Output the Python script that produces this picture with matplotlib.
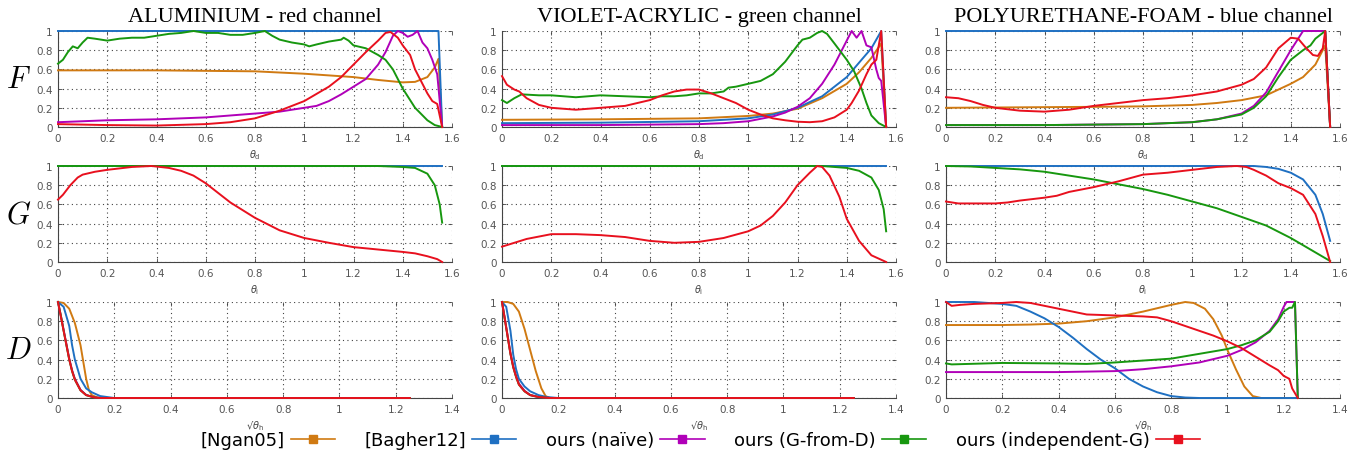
import matplotlib
matplotlib.use("Agg")
import matplotlib.pyplot as plt
from matplotlib.lines import Line2D
from matplotlib.ticker import FuncFormatter, MultipleLocator

# series colours / names
names = ['[Ngan05]', '[Bagher12]', 'ours (naïve)', 'ours (G-from-D)', 'ours (independent-G)']
keys = ['ngan', 'bagher', 'naive', 'gfromd', 'indep']
colors = ['#d07a12', '#1f70c2', '#b000b8', '#17970f', '#e8101e']

titles = ['ALUMINIUM - red channel', 'VIOLET-ACRYLIC - green channel', 'POLYURETHANE-FOAM - blue channel']
row_labels = ['F', 'G', 'D']
xlabels = [r'$\theta_\mathrm{d}$', r'$\theta_\mathrm{i}$', r'√$\theta_\mathrm{h}$']

# ---- F row ----
al_F = {
    'ngan': ([0, 0.4, 0.8, 1.0, 1.2, 1.3, 1.4, 1.45, 1.5, 1.53, 1.545, 1.56],
             [0.59, 0.59, 0.58, 0.555, 0.52, 0.49, 0.465, 0.47, 0.52, 0.62, 0.71, 0]),
    'bagher': ([0, 0.5, 1.0, 1.545, 1.56], [1, 1, 1, 1, 0]),
    'naive': ([0, 0.2, 0.4, 0.6, 0.8, 0.9, 1.0, 1.05, 1.1, 1.15, 1.2, 1.25, 1.3, 1.33, 1.36, 1.38,
               1.4, 1.42, 1.44, 1.46, 1.48, 1.5, 1.52, 1.54, 1.56],
              [0.05, 0.07, 0.08, 0.1, 0.14, 0.16, 0.2, 0.22, 0.27, 0.34, 0.42, 0.5, 0.65, 0.78, 0.95, 1.0,
               0.98, 0.94, 0.96, 1.0, 0.88, 0.82, 0.7, 0.55, 0]),
    'gfromd': ([0, 0.02, 0.04, 0.06, 0.08, 0.1, 0.12, 0.15, 0.2, 0.25, 0.3, 0.35, 0.4, 0.45, 0.5, 0.55,
                0.6, 0.65, 0.7, 0.75, 0.8, 0.84, 0.87, 0.9, 0.95, 1.0, 1.02, 1.05, 1.1, 1.15, 1.16, 1.18,
                1.2, 1.25, 1.3, 1.33, 1.36, 1.4, 1.45, 1.5, 1.53, 1.56],
               [0.66, 0.7, 0.78, 0.84, 0.82, 0.88, 0.93, 0.92, 0.9, 0.92, 0.93, 0.93, 0.95, 0.97, 0.98, 1.0,
                0.98, 0.98, 0.96, 0.96, 0.98, 1.0, 0.95, 0.91, 0.88, 0.86, 0.84, 0.86, 0.89, 0.91, 0.93, 0.9,
                0.85, 0.82, 0.75, 0.7, 0.6, 0.4, 0.2, 0.07, 0.02, 0]),
    'indep': ([0, 0.2, 0.4, 0.6, 0.7, 0.8, 0.9, 1.0, 1.1, 1.15, 1.2, 1.25, 1.3, 1.33, 1.35, 1.38, 1.4,
               1.43, 1.45, 1.48, 1.5, 1.52, 1.54, 1.56],
              [0.03, 0.02, 0.015, 0.03, 0.05, 0.09, 0.17, 0.27, 0.42, 0.52, 0.65, 0.78, 0.9, 0.98, 0.99,
               0.93, 0.85, 0.75, 0.6, 0.45, 0.35, 0.27, 0.24, 0]),
}
va_F = {
    'ngan': ([0, 0.4, 0.8, 1.0, 1.1, 1.2, 1.3, 1.4, 1.45, 1.5, 1.54, 1.56],
             [0.075, 0.08, 0.09, 0.115, 0.14, 0.19, 0.3, 0.45, 0.57, 0.72, 0.87, 0]),
    'bagher': ([0, 0.4, 0.8, 1.0, 1.1, 1.2, 1.3, 1.4, 1.45, 1.5, 1.54, 1.56],
               [0.04, 0.045, 0.06, 0.09, 0.13, 0.2, 0.32, 0.52, 0.67, 0.82, 1.0, 0]),
    'naive': ([0, 0.4, 0.8, 0.9, 1.0, 1.1, 1.15, 1.2, 1.25, 1.3, 1.35, 1.38, 1.42, 1.44, 1.46, 1.48,
               1.5, 1.52, 1.53, 1.54, 1.56],
              [0.02, 0.02, 0.03, 0.04, 0.06, 0.11, 0.15, 0.21, 0.3, 0.45, 0.65, 0.8, 1.0, 0.93, 1.0, 0.85,
               0.83, 0.6, 0.51, 0.48, 0]),
    'gfromd': ([0, 0.02, 0.05, 0.08, 0.15, 0.2, 0.3, 0.4, 0.5, 0.6, 0.65, 0.7, 0.75, 0.8, 0.85, 0.9,
                0.92, 0.95, 1.0, 1.05, 1.1, 1.15, 1.2, 1.22, 1.25, 1.28, 1.3, 1.32, 1.35, 1.4, 1.43, 1.46,
                1.48, 1.5, 1.53, 1.56],
               [0.28, 0.25, 0.3, 0.34, 0.33, 0.33, 0.31, 0.33, 0.32, 0.31, 0.32, 0.32, 0.33, 0.35, 0.35,
                0.37, 0.41, 0.42, 0.45, 0.48, 0.55, 0.68, 0.85, 0.91, 0.93, 0.98, 1.0, 0.97, 0.87, 0.7,
                0.58, 0.4, 0.25, 0.12, 0.04, 0]),
    'indep': ([0, 0.02, 0.05, 0.07, 0.1, 0.15, 0.2, 0.3, 0.4, 0.5, 0.6, 0.65, 0.7, 0.75, 0.8, 0.85, 0.9,
               0.95, 1.0, 1.05, 1.1, 1.15, 1.2, 1.25, 1.3, 1.35, 1.4, 1.42, 1.45, 1.48, 1.5, 1.52, 1.54,
               1.56],
              [0.53, 0.44, 0.39, 0.37, 0.3, 0.23, 0.2, 0.18, 0.2, 0.22, 0.28, 0.33, 0.37, 0.39, 0.39, 0.35,
               0.3, 0.25, 0.18, 0.13, 0.09, 0.07, 0.055, 0.05, 0.06, 0.1, 0.18, 0.25, 0.38, 0.55, 0.65,
               0.7, 1.0, 0]),
}
pu_F = {
    'ngan': ([0, 0.6, 0.8, 1.0, 1.1, 1.2, 1.3, 1.4, 1.45, 1.5, 1.54, 1.56],
             [0.2, 0.21, 0.215, 0.23, 0.25, 0.28, 0.33, 0.45, 0.52, 0.65, 0.85, 0]),
    'bagher': ([0, 0.5, 1.0, 1.54, 1.56], [1, 1, 1, 1, 0]),
    'naive': ([0, 0.4, 0.8, 1.0, 1.1, 1.2, 1.25, 1.3, 1.35, 1.4, 1.45, 1.54, 1.56],
              [0.02, 0.02, 0.03, 0.05, 0.08, 0.14, 0.22, 0.36, 0.58, 0.8, 1.0, 1.0, 0]),
    'gfromd': ([0, 0.4, 0.8, 1.0, 1.1, 1.2, 1.25, 1.3, 1.35, 1.4, 1.45, 1.48, 1.5, 1.54, 1.56],
               [0.02, 0.02, 0.03, 0.05, 0.08, 0.13, 0.2, 0.32, 0.52, 0.7, 0.8, 0.85, 0.92, 1.0, 0]),
    'indep': ([0, 0.05, 0.1, 0.15, 0.2, 0.3, 0.4, 0.5, 0.6, 0.7, 0.8, 0.9, 1.0, 1.1, 1.2, 1.25, 1.3,
               1.35, 1.4, 1.43, 1.46, 1.49, 1.51, 1.53, 1.54, 1.56],
              [0.31, 0.3, 0.27, 0.23, 0.2, 0.17, 0.16, 0.18, 0.22, 0.25, 0.28, 0.3, 0.33, 0.37, 0.44, 0.5,
               0.62, 0.82, 0.93, 0.92, 0.83, 0.75, 0.74, 0.82, 1.0, 0]),
}

# ---- G row ----
al_G = {
    'bagher': ([0, 0.5, 1.0, 1.56], [1, 1, 1, 1]),
    'gfromd': ([0, 0.5, 1.0, 1.3, 1.4, 1.45, 1.5, 1.53, 1.55, 1.56],
               [1, 1, 1, 1, 0.99, 0.98, 0.92, 0.8, 0.6, 0.41]),
    'indep': ([0, 0.02, 0.05, 0.08, 0.1, 0.15, 0.2, 0.3, 0.38, 0.45, 0.5, 0.55, 0.6, 0.65, 0.7, 0.8,
               0.9, 1.0, 1.1, 1.2, 1.3, 1.4, 1.45, 1.5, 1.54, 1.56],
              [0.65, 0.7, 0.8, 0.88, 0.91, 0.94, 0.96, 0.99, 1.0, 0.98, 0.95, 0.9, 0.82, 0.72, 0.62, 0.46,
               0.33, 0.25, 0.2, 0.155, 0.13, 0.105, 0.09, 0.06, 0.03, 0]),
}
va_G = {
    'bagher': ([0, 0.5, 1.0, 1.56], [1, 1, 1, 1]),
    'gfromd': ([0, 0.5, 1.0, 1.3, 1.4, 1.45, 1.5, 1.53, 1.55, 1.56],
               [1, 1, 1, 1, 0.98, 0.95, 0.88, 0.75, 0.55, 0.32]),
    'indep': ([0, 0.05, 0.1, 0.2, 0.3, 0.4, 0.5, 0.6, 0.7, 0.8, 0.9, 1.0, 1.05, 1.1, 1.15, 1.2, 1.25,
               1.28, 1.3, 1.33, 1.37, 1.4, 1.45, 1.5, 1.56],
              [0.16, 0.2, 0.24, 0.29, 0.29, 0.28, 0.26, 0.22, 0.2, 0.21, 0.25, 0.32, 0.38, 0.48, 0.62,
               0.8, 0.93, 1.0, 0.99, 0.9, 0.68, 0.45, 0.22, 0.07, 0]),
}
pu_G = {
    'bagher': ([0, 0.5, 1.0, 1.25, 1.3, 1.35, 1.4, 1.45, 1.5, 1.53, 1.56],
               [1, 1, 1, 1, 0.99, 0.97, 0.93, 0.86, 0.7, 0.5, 0.22]),
    'gfromd': ([0, 0.1, 0.2, 0.3, 0.4, 0.5, 0.6, 0.7, 0.8, 0.9, 1.0, 1.1, 1.2, 1.3, 1.4, 1.5, 1.56],
               [1.0, 0.995, 0.98, 0.965, 0.94, 0.9, 0.86, 0.81, 0.76, 0.7, 0.63, 0.56, 0.47, 0.38, 0.25,
                0.1, 0.01]),
    'indep': ([0, 0.05, 0.2, 0.25, 0.3, 0.4, 0.45, 0.5, 0.6, 0.7, 0.8, 0.9, 1.0, 1.1, 1.18, 1.22, 1.25,
               1.3, 1.35, 1.4, 1.45, 1.5, 1.53, 1.56],
              [0.63, 0.61, 0.61, 0.62, 0.64, 0.67, 0.69, 0.73, 0.78, 0.84, 0.91, 0.93, 0.96, 0.99, 1.0,
               0.99, 0.96, 0.9, 0.82, 0.77, 0.7, 0.5, 0.27, 0]),
}

# ---- D row ----
al_D = {
    'ngan': ([0, 0.02, 0.04, 0.06, 0.08, 0.1, 0.11, 0.12, 0.14, 0.16, 1.25],
             [1, 0.99, 0.93, 0.78, 0.55, 0.2, 0.08, 0.03, 0.005, 0, 0]),
    'bagher': ([0, 0.02, 0.04, 0.05, 0.06, 0.07, 0.08, 0.1, 0.12, 0.15, 0.2, 1.25],
               [1, 0.95, 0.75, 0.55, 0.4, 0.3, 0.2, 0.1, 0.06, 0.02, 0, 0]),
    'naive': ([0, 0.01, 0.02, 0.03, 0.04, 0.05, 0.06, 0.08, 0.1, 0.13, 0.15, 1.25],
              [1, 0.86, 0.71, 0.56, 0.41, 0.29, 0.2, 0.085, 0.032, 0.006, 0, 0]),
    'gfromd': ([0, 0.01, 0.02, 0.03, 0.04, 0.05, 0.06, 0.08, 0.1, 0.13, 0.15, 1.25],
               [1, 0.86, 0.7, 0.55, 0.4, 0.28, 0.19, 0.08, 0.03, 0.005, 0, 0]),
    'indep': ([0, 0.01, 0.02, 0.03, 0.04, 0.05, 0.06, 0.08, 0.1, 0.13, 0.15, 1.25],
              [1, 0.85, 0.7, 0.55, 0.4, 0.28, 0.19, 0.08, 0.03, 0.005, 0, 0]),
}
va_D = {
    'ngan': ([0, 0.02, 0.04, 0.06, 0.08, 0.1, 0.12, 0.14, 0.155, 0.17, 1.25],
             [1, 1.0, 0.98, 0.9, 0.72, 0.5, 0.28, 0.1, 0.02, 0, 0]),
    'bagher': ([0, 0.015, 0.03, 0.04, 0.05, 0.06, 0.08, 0.1, 0.13, 0.16, 0.2, 1.25],
               [1, 0.95, 0.7, 0.45, 0.3, 0.2, 0.12, 0.07, 0.03, 0.01, 0, 0]),
    'naive': ([0, 0.01, 0.02, 0.03, 0.04, 0.05, 0.06, 0.08, 0.1, 0.13, 0.17, 1.25],
              [1, 0.83, 0.65, 0.47, 0.33, 0.23, 0.15, 0.075, 0.032, 0.01, 0, 0]),
    'gfromd': ([0, 0.01, 0.02, 0.03, 0.04, 0.05, 0.06, 0.08, 0.1, 0.13, 0.17, 1.25],
               [1, 0.82, 0.64, 0.46, 0.32, 0.22, 0.14, 0.07, 0.03, 0.01, 0, 0]),
    'indep': ([0, 0.01, 0.02, 0.03, 0.04, 0.05, 0.06, 0.08, 0.1, 0.13, 0.17, 1.25],
              [1, 0.82, 0.64, 0.46, 0.32, 0.22, 0.14, 0.07, 0.03, 0.01, 0, 0]),
}
pu_D = {
    'ngan': ([0, 0.2, 0.3, 0.4, 0.5, 0.6, 0.7, 0.8, 0.85, 0.88, 0.92, 0.95, 0.98, 1.0, 1.03, 1.06,
              1.09, 1.12, 1.25],
             [0.76, 0.76, 0.765, 0.775, 0.8, 0.84, 0.9, 0.97, 1.0, 0.99, 0.93, 0.82, 0.65, 0.5, 0.3,
              0.12, 0.02, 0, 0]),
    'bagher': ([0, 0.1, 0.2, 0.25, 0.3, 0.35, 0.4, 0.45, 0.5, 0.55, 0.6, 0.65, 0.7, 0.75, 0.8, 0.85,
                0.9, 1.25],
               [1.0, 1.0, 0.98, 0.96, 0.9, 0.83, 0.74, 0.63, 0.51, 0.4, 0.31, 0.2, 0.12, 0.06, 0.02,
                0.005, 0, 0]),
    'naive': ([0, 0.4, 0.6, 0.7, 0.8, 0.9, 1.0, 1.05, 1.1, 1.15, 1.18, 1.2, 1.21, 1.24, 1.25],
              [0.27, 0.27, 0.28, 0.3, 0.33, 0.37, 0.44, 0.5, 0.58, 0.7, 0.82, 0.95, 1.0, 1.0, 0]),
    'gfromd': ([0, 0.02, 0.2, 0.4, 0.5, 0.6, 0.7, 0.8, 0.9, 1.0, 1.05, 1.1, 1.15, 1.18, 1.2, 1.22,
                1.23, 1.24, 1.25],
               [0.36, 0.35, 0.365, 0.36, 0.355, 0.37, 0.39, 0.41, 0.46, 0.51, 0.55, 0.6, 0.69, 0.8, 0.9,
                0.94, 0.94, 1.0, 0]),
    'indep': ([0, 0.02, 0.05, 0.1, 0.2, 0.25, 0.3, 0.35, 0.4, 0.45, 0.5, 0.6, 0.7, 0.75, 0.8, 0.85,
               0.9, 0.95, 1.0, 1.05, 1.1, 1.15, 1.18, 1.2, 1.22, 1.23, 1.25],
              [1.0, 0.96, 0.97, 0.98, 0.99, 1.0, 0.99, 0.96, 0.93, 0.9, 0.87, 0.86, 0.85, 0.84, 0.8,
               0.75, 0.7, 0.65, 0.59, 0.52, 0.43, 0.34, 0.29, 0.23, 0.2, 0.1, 0]),
}

panels = [[al_F, va_F, pu_F], [al_G, va_G, pu_G], [al_D, va_D, pu_D]]
xmax = [1.6, 1.6, 1.4]

W, H = 1364, 460
fig = plt.figure(figsize=(W / 100, H / 100), dpi=100)

col_left = [58, 502, 946]
row_top = [32, 167, 303]
ax_w, ax_h = 394, 96

fmt = FuncFormatter(lambda v, p: '%g' % round(v, 2))

for r in range(3):
    for c in range(3):
        ax = fig.add_axes([col_left[c] / W, 1 - (row_top[r] + ax_h) / H, ax_w / W, ax_h / H])
        data = panels[r][c]
        for k, col in zip(keys, colors):
            if k in data:
                x, y = data[k]
                ax.plot(x, y, color=col, lw=1.4, clip_on=False, solid_joinstyle='round', zorder=3)
        ax.set_xlim(0, xmax[r])
        ax.set_ylim(0, 1)
        ax.xaxis.set_major_locator(MultipleLocator(0.2))
        ax.yaxis.set_major_locator(MultipleLocator(0.2))
        ax.xaxis.set_major_formatter(fmt)
        ax.yaxis.set_major_formatter(fmt)
        ax.grid(True, color='#444444', linestyle=(0, (1, 3)), lw=0.8)
        ax.set_axisbelow(True)
        ax.tick_params(direction='in', length=3, width=0.6, colors='#444444',
                       labelcolor='#555555', labelsize=7.5, top=True, right=True, pad=4)
        for s in ['top', 'right']:
            ax.spines[s].set_visible(False)
        for s in ['left', 'bottom']:
            ax.spines[s].set_color('#444444')
            ax.spines[s].set_linewidth(0.8)
        ax.set_xlabel(xlabels[r], fontsize=7, color='#444444', labelpad=3)
        if r == 0:
            ax.set_title(titles[c], fontsize=16, family='Liberation Serif', pad=7)
        if c == 0:
            ax.text(-0.1, 0.5, '$' + row_labels[r] + '$', transform=ax.transAxes, fontsize=22,
                    math_fontfamily='cm', ha='center', va='center')

handles = [Line2D([], [], color=col, lw=1.2, marker='s', markersize=5.5) for col in colors]
fig.legend(handles, names, loc='center right', bbox_to_anchor=(1200 / W, 1 - 441 / H),
           ncol=5, frameon=False, fontsize=13, markerfirst=False, handlelength=2.44,
           handletextpad=0.33, columnspacing=1.66, borderpad=0, borderaxespad=0)

fig.savefig('out.png', dpi=100)
